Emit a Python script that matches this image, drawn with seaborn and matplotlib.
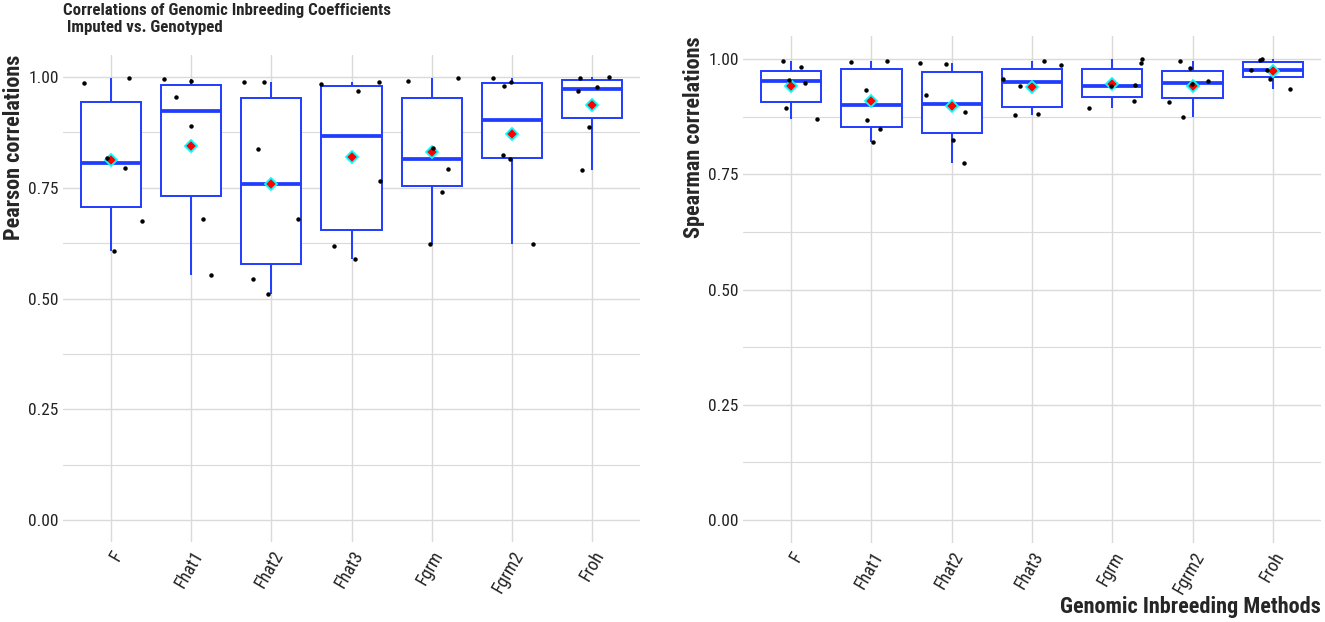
import numpy as np
import pandas as pd
import seaborn as sns
from matplotlib import pyplot as plt
from matplotlib import font_manager
from matplotlib.ticker import MultipleLocator, FormatStrFormatter

methods = ["F", "Fhat1", "Fhat2", "Fhat3", "Fgrm", "Fgrm2", "Froh"]

# six correlations per method
pearson = [
    [0.987, 0.998, 0.817, 0.795, 0.676, 0.607],
    [0.992, 0.996, 0.956, 0.889, 0.679, 0.552],
    [0.990, 0.990, 0.838, 0.679, 0.543, 0.511],
    [0.990, 0.984, 0.969, 0.765, 0.618, 0.590],
    [0.997, 0.992, 0.839, 0.793, 0.741, 0.623],
    [0.998, 0.988, 0.980, 0.816, 0.825, 0.623],
    [1.000, 0.998, 0.977, 0.969, 0.888, 0.790],
]
spearman = [
    [0.982, 0.996, 0.954, 0.949, 0.893, 0.869],
    [0.993, 0.996, 0.933, 0.868, 0.848, 0.821],
    [0.989, 0.991, 0.922, 0.885, 0.824, 0.775],
    [0.986, 0.996, 0.957, 0.942, 0.881, 0.878],
    [1.000, 0.991, 0.943, 0.941, 0.909, 0.893],
    [0.996, 0.980, 0.953, 0.945, 0.906, 0.874],
    [1.000, 0.999, 0.977, 0.977, 0.957, 0.935],
]

yticks = [0.00, 0.25, 0.50, 0.75, 1.00]

sns.set_style("white")
# condensed face if there is one, else plain Liberation Sans a bit smaller
installed = {f.name for f in font_manager.fontManager.ttflist}
candidates = ["Liberation Sans Narrow", "Arial Narrow", "Roboto Condensed",
              "Archivo Narrow", "PT Sans Narrow"]
found = [c for c in candidates if c in installed]
if found:
    plt.rcParams["font.family"] = [found[0], "Liberation Sans", "DejaVu Sans"]
    k = 1.0
else:
    plt.rcParams["font.family"] = ["Liberation Sans", "DejaVu Sans"]
    k = 0.85

BLUE = "#1f3cff"
GRID = "#dadada"


def long_frame(values):
    rows = []
    for m, vals in zip(methods, values):
        for v in vals:
            rows.append({"method": m, "r": v})
    return pd.DataFrame(rows)


def draw(ax, frame, ylabel):
    ax.set_axisbelow(True)
    sns.boxplot(data=frame, x="method", y="r", order=methods, ax=ax,
                width=0.75, color="white", linecolor=BLUE, linewidth=1.4,
                showfliers=False, showcaps=False, showmeans=True,
                meanprops=dict(marker="D", markerfacecolor="red",
                               markeredgecolor="cyan", markersize=6,
                               markeredgewidth=1.3),
                medianprops=dict(color=BLUE, linewidth=2.7))
    sns.stripplot(data=frame, x="method", y="r", order=methods, ax=ax,
                  color="black", size=3.2, jitter=0.4)

    ax.set_xlim(-0.6, len(methods) - 0.4)
    ax.set_ylim(-0.05, 1.05)
    ax.set_yticks(yticks)
    ax.yaxis.set_major_formatter(FormatStrFormatter("%.2f"))
    ax.yaxis.set_minor_locator(MultipleLocator(0.125))
    ax.set_xticks(range(len(methods)))
    ax.set_xticklabels(methods, rotation=60, ha="right", va="top",
                       rotation_mode="anchor")
    ax.grid(which="major", axis="both", color=GRID, linewidth=1.0)
    ax.grid(which="minor", axis="y", color=GRID, linewidth=0.8)
    ax.tick_params(which="both", length=0)
    ax.tick_params(axis="y", labelsize=12.5 * k, pad=3, labelcolor="#222222")
    ax.tick_params(axis="x", labelsize=13 * k, pad=4, labelcolor="#222222")
    sns.despine(ax=ax, left=True, bottom=True)

    ax.set_xlabel("")
    ax.set_ylabel(ylabel, fontsize=16 * k, fontweight="bold", loc="top")
    ax.yaxis.set_label_coords(-0.066, 1.0)


np.random.seed(7)

fig = plt.figure(figsize=(13.25, 6.22), dpi=100)
ax1 = fig.add_axes([63 / 1325, 80 / 622, 577 / 1325, 487 / 622])
ax2 = fig.add_axes([743 / 1325, 79 / 622, 578 / 1325, 507 / 622])

draw(ax1, long_frame(pearson), "Pearson correlations")
draw(ax2, long_frame(spearman), "Spearman correlations")

ax2.set_xlabel("Genomic Inbreeding Methods", fontsize=16 * k, fontweight="bold",
               loc="right")
ax2.xaxis.set_label_coords(1.0, -0.105)

fig.text(63 / 1325, 1 - 3 / 622,
         "Correlations of Genomic Inbreeding Coefficients\n Imputed vs. Genotyped",
         ha="left", va="top", fontsize=12.2 * k, fontweight="bold",
         linespacing=1.2)

plt.savefig("out.png", dpi=100)
